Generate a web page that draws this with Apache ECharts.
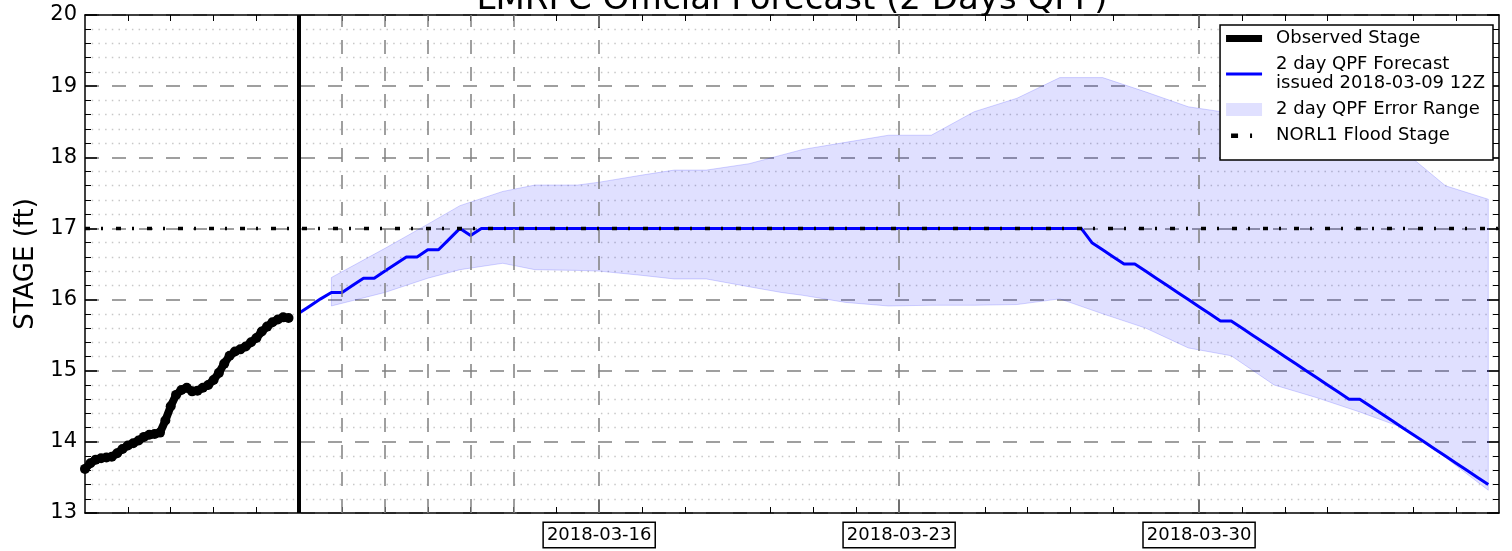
<!DOCTYPE html>
<html><head><meta charset="utf-8">
<script src="https://cdn.jsdelivr.net/npm/echarts@6/dist/echarts.min.js"></script>
<style>html,body{margin:0;padding:0;background:#fff}#chart{width:1512px;height:551px}</style>
</head><body><div id="chart"></div>
<script>
// ---------------- data ----------------
const titleText = 'LMRFC Official Forecast (2 Days QPF)';
const yAxisName = 'STAGE (ft)';
const axisStart = '2018-03-04T00:00Z';
const axisEnd = '2018-04-06T00:00Z';
const yMin = 13, yMax = 20, yStep = 1;

const obsName = 'Observed Stage';
const obsStart = '2018-03-04T00:00Z';
const obsStepHours = 3;
const observedStage = [13.62,13.70,13.75,13.77,13.78,13.79,13.84,13.90,13.95,13.98,
  14.02,14.07,14.10,14.11,14.13,14.30,14.50,14.66,14.73,14.76,
  14.71,14.72,14.76,14.80,14.87,14.97,15.10,15.21,15.27,15.30,
  15.34,15.40,15.46,15.55,15.62,15.68,15.72,15.75,15.74];

const fcstName = '2 day QPF Forecast\nissued 2018-03-09 12Z';
const fcstStart = '2018-03-09T00:00Z';
const fcstStepHours = 6;
const forecastStage = [15.81,15.91,16.01,16.10,16.10,16.20,16.30,16.30,16.40,16.50,
  16.60,16.60,16.70,16.70,16.85,17.00,16.90,
  17.00,17.00,17.00,17.00,17.00,17.00,17.00,17.00,17.00,17.00,
  17.00,17.00,17.00,17.00,17.00,17.00,17.00,17.00,17.00,17.00,
  17.00,17.00,17.00,17.00,17.00,17.00,17.00,17.00,17.00,17.00,
  17.00,17.00,17.00,17.00,17.00,17.00,17.00,17.00,17.00,17.00,
  17.00,17.00,17.00,17.00,17.00,17.00,17.00,17.00,17.00,17.00,
  17.00,17.00,17.00,17.00,17.00,17.00,17.00,
  16.80,16.70,16.60,16.50,16.50,16.40,16.30,16.20,16.10,16.00,
  15.90,15.80,15.70,15.70,15.60,15.50,15.40,15.30,15.20,15.10,
  15.00,14.90,14.80,14.70,14.60,14.60,14.50,14.40,14.30,14.20,
  14.10,14.00,13.90,13.80,13.70,13.60,13.50,13.40];

const bandName = '2 day QPF Error Range';
const bandTimes = ['2018-03-09T18:00Z','2018-03-11T00:00Z','2018-03-12T00:00Z','2018-03-12T18:00Z',
  '2018-03-13T18:00Z','2018-03-14T12:00Z','2018-03-15T12:00Z','2018-03-16T00:00Z','2018-03-17T00:00Z',
  '2018-03-17T18:00Z','2018-03-18T12:00Z','2018-03-19T12:00Z','2018-03-20T06:00Z','2018-03-20T18:00Z',
  '2018-03-21T18:00Z','2018-03-22T18:00Z','2018-03-23T18:00Z','2018-03-24T18:00Z','2018-03-25T18:00Z',
  '2018-03-26T18:00Z','2018-03-27T18:00Z','2018-03-28T18:00Z','2018-03-29T18:00Z','2018-03-30T18:00Z',
  '2018-03-31T18:00Z','2018-04-01T18:00Z','2018-04-02T18:00Z','2018-04-03T18:00Z','2018-04-04T18:00Z',
  '2018-04-05T18:00Z'];
const bandUpper = [16.31,16.72,17.06,17.32,17.52,17.61,17.61,17.65,17.75,17.82,17.82,17.91,18.03,18.11,
  18.21,18.31,18.31,18.64,18.83,19.12,19.12,18.92,18.71,18.62,18.52,18.40,18.26,18.10,17.60,17.41];
const bandLower = [15.91,16.10,16.30,16.42,16.51,16.42,16.41,16.40,16.34,16.29,16.29,16.18,16.10,16.06,
  15.96,15.91,15.92,15.92,15.93,16.01,15.80,15.60,15.32,15.21,14.80,14.62,14.42,14.20,13.78,13.32];

const floodName = 'NORL1 Flood Stage';
const floodStage = 17;
const issueLine = '2018-03-09T00:00Z';

const gridDays = ['2018-03-10','2018-03-11','2018-03-12','2018-03-13','2018-03-14',
  '2018-03-16','2018-03-23','2018-03-30'];
const majorTickDays = ['2018-03-16','2018-03-23','2018-03-30'];
const minorTickDays = ['2018-03-05','2018-03-06','2018-03-07','2018-03-08','2018-03-09','2018-03-10',
  '2018-03-11','2018-03-12','2018-03-13','2018-03-14','2018-03-15','2018-03-17','2018-03-18',
  '2018-03-20','2018-03-21','2018-03-22','2018-03-25','2018-03-26','2018-03-27','2018-03-28',
  '2018-03-31','2018-04-01','2018-04-02','2018-04-04','2018-04-05'];

// ---------------- build ----------------
const HOUR = 3600000, DAY = 86400000;
const t0 = Date.parse(axisStart), t1 = Date.parse(axisEnd);
const obsData = observedStage.map((v, i) => [Date.parse(obsStart) + i * obsStepHours * HOUR, v]);
const fcstData = forecastStage.map((v, i) => [Date.parse(fcstStart) + i * fcstStepHours * HOUR, v]);
const bandData = bandTimes.map((t, i) => [Date.parse(t), bandLower[i], bandUpper[i]]);
const majors = majorTickDays.map(d => Date.parse(d));
const minors = minorTickDays.map(d => Date.parse(d));
const FONT = 'DejaVu Sans';
const fmtDate = v => new Date(v).toISOString().slice(0, 10);

const xBase = {
  type: 'value', min: t0, max: t1, interval: DAY, gridIndex: 0,
  splitLine: { show: false },
  axisLine: { show: true, lineStyle: { color: '#000', width: 1.5 } }
};
function minorAxis(pos) {
  return Object.assign({}, xBase, {
    position: pos,
    axisTick: { show: true, inside: true, length: 6, customValues: minors, lineStyle: { color: '#000', width: 1 } },
    axisLabel: { show: false }
  });
}
function majorAxis(pos, labels) {
  return Object.assign({}, xBase, {
    position: pos,
    axisLine: { show: false },
    axisTick: { show: true, inside: true, length: 13, customValues: majors, lineStyle: { color: '#000', width: 1.5 } },
    axisLabel: labels ? {
      show: true, customValues: majors, formatter: fmtDate,
      fontFamily: FONT, fontSize: 18, color: '#000', margin: 10,
      borderColor: '#000', borderWidth: 1.5, padding: [3, 3, 3, 3], backgroundColor: '#fff'
    } : { show: false }
  });
}
const yBase = {
  type: 'value', min: yMin, max: yMax, interval: yStep,
  axisLine: { show: true, lineStyle: { color: '#000', width: 1.5 } },
  axisTick: { show: true, inside: true, length: 12, lineStyle: { color: '#000', width: 1.5 } },
  minorTick: { show: true, splitNumber: 5, length: 6, lineStyle: { color: '#000', width: 1 } }
};

const P = (s) => 'path://M0,0L0,0ZM45,14L45,14Z' + s;
const option = {
  animation: false,
  backgroundColor: '#fff',
  textStyle: { fontFamily: FONT },
  title: {
    text: titleText, left: 792, top: -17, textAlign: 'center', padding: 0,
    textStyle: { fontFamily: FONT, fontSize: 34, fontWeight: 'normal', color: '#000', lineHeight: 34 }
  },
  grid: { left: 85, right: 13, top: 15, bottom: 38, containLabel: false, outerBoundsMode: 'none' },
  legend: {
    orient: 'vertical', right: 19, top: 25, selectedMode: false,
    backgroundColor: '#fff', borderColor: '#000', borderWidth: 1.5, borderRadius: 0,
    padding: [4, 8, 15, 6], itemGap: 7, itemWidth: 45, itemHeight: 14,
    textStyle: { fontFamily: FONT, fontSize: 18, lineHeight: 19, color: '#000' },
    data: [
      { name: obsName, icon: P('M0,3.5L36,3.5L36,10.5L0,10.5Z'), itemStyle: { color: '#000', borderWidth: 0 } },
      { name: fcstName, icon: P('M0,5.5L36,5.5L36,8.5L0,8.5Z'), itemStyle: { color: '#0000ff', borderWidth: 0 } },
      { name: bandName, icon: P('M0,0.5L36,0.5L36,13.5L0,13.5Z'), itemStyle: { color: 'rgba(0,0,255,0.12)', borderWidth: 0 } },
      { name: floodName, icon: P('M5,5L12,5L12,9.5L5,9.5ZM24,5L26,5L26,9.5L24,9.5Z'), itemStyle: { color: '#000', borderWidth: 0 } }
    ]
  },
  xAxis: [minorAxis('bottom'), majorAxis('bottom', true), minorAxis('top'), majorAxis('top', false)],
  yAxis: [
    Object.assign({}, yBase, {
      position: 'left',
      axisLabel: { fontFamily: FONT, fontSize: 21, color: '#000', margin: 8 },
      splitLine: { show: true, lineStyle: { color: '#808080', width: 1.5, type: [14, 13] } },
      minorSplitLine: { show: true, lineStyle: { color: '#c8c8c8', width: 1.3, type: [1.5, 5.2] } },
      name: yAxisName, nameLocation: 'middle', nameGap: 42,
      nameTextStyle: { fontFamily: FONT, fontSize: 26, color: '#000' }
    }),
    Object.assign({}, yBase, { position: 'right', axisLabel: { show: false }, splitLine: { show: false } })
  ],
  series: [
    {
      type: 'custom', name: bandName, data: bandData, encode: { x: 0, y: [1, 2] },
      xAxisIndex: 0, yAxisIndex: 0, z: 1, silent: true,
      itemStyle: { color: 'rgba(0,0,255,0.12)' },
      renderItem: function (params, api) {
        if (params.dataIndex !== 0) return null;
        const up = bandData.map(d => api.coord([d[0], d[2]]));
        const lo = bandData.map(d => api.coord([d[0], d[1]])).reverse();
        return { type: 'polygon', shape: { points: up.concat(lo) },
          style: { fill: 'rgba(0,0,255,0.12)', stroke: 'rgba(0,0,255,0.16)', lineWidth: 1 } };
      }
    },
    {
      type: 'line', name: obsName, data: obsData, xAxisIndex: 0, yAxisIndex: 0, z: 3,
      symbol: 'circle', symbolSize: 10, showSymbol: true,
      itemStyle: { color: '#000' }, lineStyle: { color: '#000', width: 8 },
      markLine: {
        silent: true, symbol: ['none', 'none'], label: { show: false }, animation: false,
        data: gridDays.map(d => ({ xAxis: Date.parse(d), lineStyle: { color: '#808080', width: 1.5, type: [14, 13] } }))
          .concat([{ xAxis: Date.parse(issueLine), lineStyle: { color: '#000', width: 4, type: 'solid' } }])
      }
    },
    {
      type: 'line', name: fcstName, data: fcstData, xAxisIndex: 0, yAxisIndex: 0, z: 4,
      symbol: 'none', itemStyle: { color: '#0000ff' }, lineStyle: { color: '#0000ff', width: 3 }
    },
    {
      type: 'line', name: floodName, data: [[t0, floodStage], [t1, floodStage]], xAxisIndex: 0, yAxisIndex: 0, z: 5,
      symbol: 'none', itemStyle: { color: '#000' }, lineStyle: { color: '#000', width: 3.5, type: [5, 11, 2, 13] }
    }
  ]
};
const chart = echarts.init(document.getElementById('chart'), null, { renderer: 'canvas' });
chart.setOption(option);
</script></body></html>
